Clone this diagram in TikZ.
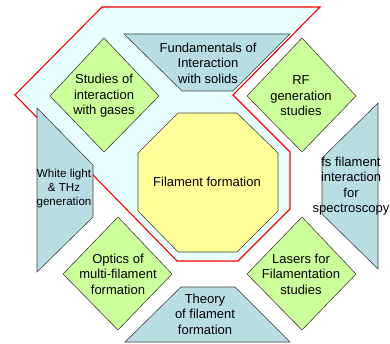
\documentclass[tikz,border=0pt]{standalone}
\usepackage{fontspec}
\setmainfont{Liberation Sans}
\definecolor{zonecyan}{HTML}{E8FFFF}
\definecolor{trapblue}{HTML}{B9DEE2}
\definecolor{leafgreen}{HTML}{CCFF99}
\definecolor{coreyellow}{HTML}{FFFF99}
\definecolor{edgegray}{HTML}{404040}
\begin{document}
\begin{tikzpicture}[x=1pt,y=-1pt,
  lbl/.style={align=center,inner sep=0pt,font=\fontsize{13}{15.5}\selectfont},
  small/.style={lbl,font=\fontsize{11.6}{14}\selectfont},
  trap/.style={fill=trapblue,draw=edgegray,line width=0.6pt},
  leaf/.style={fill=leafgreen,draw=edgegray,line width=0.6pt},
  core/.style={fill=coreyellow,draw=edgegray,line width=0.6pt}]
\useasboundingbox (0,0) rectangle (390,344);

% red zone behind
\draw[red,line width=1.1pt,fill=zonecyan] (102,7) -- (320,7) -- (233,95) -- (290,152)
  -- (290,209) -- (238,261) -- (177,261) -- (15,95) -- cycle;

% centre
\draw[core] (178,113) -- (237,113) -- (278,153) -- (278,211) -- (237,252)
  -- (178,252) -- (138,211) -- (138,153) -- cycle;
\node[lbl] (core) at (207,182) {Filament formation};

% trapezoids
\draw[trap] (124,34) -- (290,34) -- (233,91) -- (182,91) -- cycle;
\node[lbl] (solids) at (208,63) {Fundamentals of\\Interaction\\with solids};
\draw[trap] (181,287) -- (235,287) -- (290,342) -- (125,342) -- cycle;
\node[lbl] (theory) at (205,314) {Theory\\of filament\\formation};
\draw[trap] (37,108) -- (93,165) -- (93,217) -- (37,272) -- cycle;
\node[small] (thz) at (64,189) {White light\\\& THz\\generation};
\draw[trap] (378,103) -- (322,158) -- (322,214) -- (378,269) -- cycle;
\node[lbl] (spectro) at (351,186) {fs filament\\interaction\\for\\spectroscopy};

% diamonds
\draw[leaf] (104,38) -- (159,96) -- (104,152) -- (50,96) -- cycle;
\node[lbl] (gases) at (104,96) {Studies of\\interaction\\with gases};
\draw[leaf] (302,38) -- (356,96) -- (302,152) -- (247,96) -- cycle;
\node[lbl] (rf) at (301,96) {RF\\generation\\studies};
\draw[leaf] (118,217) -- (172,274) -- (118,330) -- (63,274) -- cycle;
\node[lbl] (optics) at (118,274) {Optics of\\multi-filament\\formation};
\draw[leaf] (302,217) -- (356,274) -- (302,330) -- (247,274) -- cycle;
\node[lbl] (lasers) at (301,274) {Lasers for\\Filamentation\\studies};

\end{tikzpicture}
\end{document}
